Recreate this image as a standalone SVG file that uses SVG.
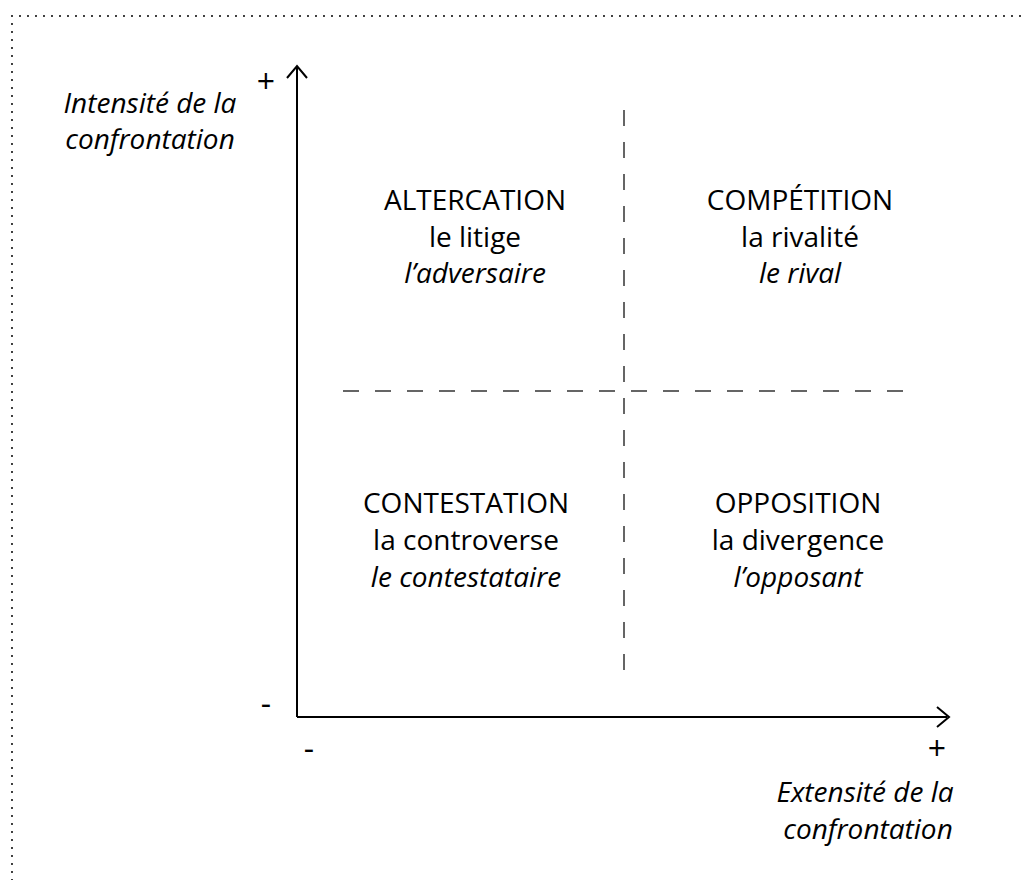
<svg xmlns="http://www.w3.org/2000/svg" width="1022" height="880" viewBox="0 0 1022 880">
<style>
text{font-family:"Open Sans","Noto Sans",sans-serif;font-size:28px;fill:#000;text-anchor:middle;font-weight:400;letter-spacing:0px}
.i{font-style:italic}
.s{font-size:32px}
.ax{stroke:#000;stroke-width:2;fill:none}
.dash{stroke:#333;stroke-width:1.5;stroke-dasharray:16 16;fill:none}
.frame{stroke:#000;stroke-width:2;stroke-dasharray:0 8;stroke-linecap:round;fill:none}
</style>
<rect width="1022" height="880" fill="#fff"/>
<path class="frame" d="M12,1000 L12,16 L1030,16"/>
<g id="connectors">
<path class="ax" d="M297,717 L297,67 M287,78 L297,66 L307,78"/>
<path class="ax" d="M297,717 L947,717 M937,707 L949,717 L937,727"/>
<path class="dash" d="M624,110 L624,672"/>
<path class="dash" d="M343,391 L905,391"/>
</g>
<g id="axis-labels">
<text class="i" x="150" y="113">Intensité de la</text>
<text class="i" x="150" y="149">confrontation</text>
<text class="s" x="266" y="93">+</text>
<text class="s" x="266" y="715">-</text>
<text class="s" x="309" y="760">-</text>
<text class="s" x="937" y="760">+</text>
<text class="i" x="865" y="802">Extensité de la</text>
<text class="i" x="868" y="839">confrontation</text>
</g>
<g id="altercation">
<text x="475" y="210">ALTERCATION</text>
<text x="475" y="247">le litige</text>
<text class="i" x="475" y="283">l’adversaire</text>
</g>
<g id="competition">
<text x="800" y="210">COMPÉTITION</text>
<text x="800" y="247">la rivalité</text>
<text class="i" x="800" y="283">le rival</text>
</g>
<g id="contestation">
<text x="466" y="513">CONTESTATION</text>
<text x="466" y="550">la controverse</text>
<text class="i" x="466" y="587">le contestataire</text>
</g>
<g id="opposition">
<text x="798" y="513">OPPOSITION</text>
<text x="798" y="550">la divergence</text>
<text class="i" x="798" y="587">l’opposant</text>
</g>
</svg>
